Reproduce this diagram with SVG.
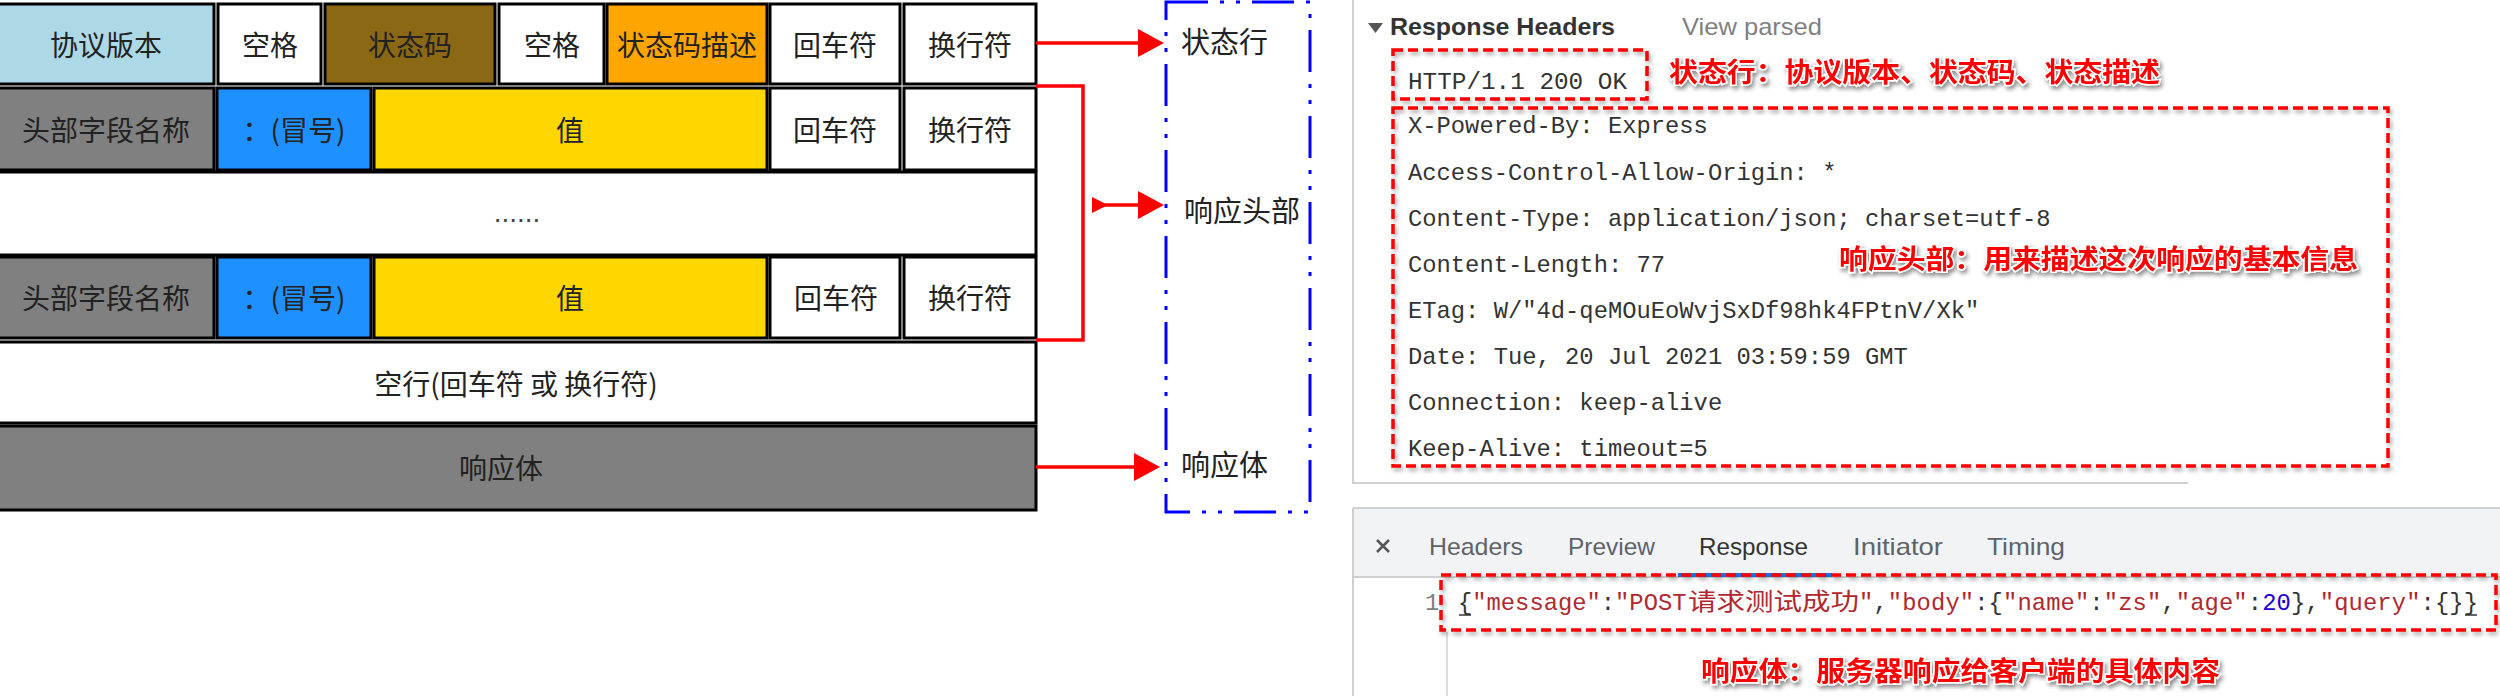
<svg xmlns="http://www.w3.org/2000/svg" width="2500" height="696" viewBox="0 0 2500 696">
<defs>
<style>
.cell{stroke:#000;stroke-width:3}
.t{font-family:"Noto Sans CJK SC","Liberation Sans",sans-serif;font-size:28px;fill:#222;text-anchor:middle;dominant-baseline:central}
.lbl{font-family:"Noto Sans CJK SC","Liberation Sans",sans-serif;font-size:29px;fill:#222;dominant-baseline:central}
.conn{stroke:#f00;stroke-width:3.5;fill:none}
.mono{font-family:"Liberation Mono",monospace;font-size:23.8px;fill:#333}
.ann{font-family:"Noto Sans CJK SC",sans-serif;font-size:27px;font-weight:bold;fill:#f00;stroke:#fff;stroke-width:3;paint-order:stroke;filter:url(#tsh)}
.redbox{fill:none;stroke:#f00;stroke-width:3.5;stroke-dasharray:10 5;filter:url(#bsh)}
.ui{font-family:"Liberation Sans",sans-serif;font-size:24px}
.tab{font-family:"Liberation Sans",sans-serif;font-size:24px;fill:#5f6368}
.s{fill:#b0282e}
.p{fill:#333}
.n{fill:#1c00cf}
.rule{stroke:#d0d0d0;stroke-width:2;fill:none}
</style>
<marker id="ah" viewBox="0 0 26 28" refX="0" refY="14" markerWidth="26" markerHeight="28" markerUnits="userSpaceOnUse" orient="auto">
<path d="M0,0 L26,14 L0,28 z" fill="#f00"/>
</marker>
<filter id="bsh" x="-5%" y="-20%" width="110%" height="140%">
<feDropShadow dx="2" dy="3" stdDeviation="2" flood-color="#000" flood-opacity="0.35"/>
</filter>
<filter id="tsh" x="-5%" y="-30%" width="110%" height="160%">
<feDropShadow dx="2" dy="3" stdDeviation="2" flood-color="#000" flood-opacity="0.45"/>
</filter>
</defs>
<rect x="0" y="0" width="2500" height="696" fill="#fff"/>

<!-- Left table -->
<g id="row-status">
<rect class="cell" x="-2" y="4" width="216" height="80" fill="#ADD8E6"/>
<text class="t" x="106" y="44">协议版本</text>
<rect class="cell" x="218" y="4" width="103" height="80" fill="#fff"/>
<text class="t" x="270" y="44">空格</text>
<rect class="cell" x="325" y="4" width="170" height="80" fill="#8B6914"/>
<text class="t" x="410" y="44">状态码</text>
<rect class="cell" x="499" y="4" width="105" height="80" fill="#fff"/>
<text class="t" x="552" y="44">空格</text>
<rect class="cell" x="607" y="4" width="160" height="80" fill="#FFA500"/>
<text class="t" x="687" y="44">状态码描述</text>
<rect class="cell" x="770" y="4" width="130" height="80" fill="#fff"/>
<text class="t" x="835" y="44">回车符</text>
<rect class="cell" x="904" y="4" width="132" height="80" fill="#fff"/>
<text class="t" x="970" y="44">换行符</text>
</g>
<g id="row-header1">
<rect class="cell" x="-2" y="88" width="216" height="82" fill="#808080"/>
<text class="t" x="106" y="129">头部字段名称</text>
<rect class="cell" x="217" y="88" width="154" height="82" fill="#1E90FF"/>
<text class="t" x="294" y="129">：(冒号)</text>
<rect class="cell" x="374" y="88" width="393" height="82" fill="#FFD700"/>
<text class="t" x="570" y="129">值</text>
<rect class="cell" x="770" y="88" width="130" height="82" fill="#fff"/>
<text class="t" x="835" y="129">回车符</text>
<rect class="cell" x="904" y="88" width="132" height="82" fill="#fff"/>
<text class="t" x="970" y="129">换行符</text>
</g>
<g id="row-ellipsis">
<rect class="cell" x="-2" y="172" width="1038" height="83" fill="#fff"/>
<text x="517" y="222" font-family="Liberation Sans, sans-serif" font-size="28" fill="#444" text-anchor="middle">......</text>
</g>
<g id="row-header2">
<rect class="cell" x="-2" y="257" width="216" height="81" fill="#808080"/>
<text class="t" x="106" y="297">头部字段名称</text>
<rect class="cell" x="217" y="257" width="154" height="81" fill="#1E90FF"/>
<text class="t" x="294" y="297">：(冒号)</text>
<rect class="cell" x="374" y="257" width="393" height="81" fill="#FFD700"/>
<text class="t" x="570" y="297">值</text>
<rect class="cell" x="770" y="257" width="130" height="81" fill="#fff"/>
<text class="t" x="836" y="297">回车符</text>
<rect class="cell" x="904" y="257" width="132" height="81" fill="#fff"/>
<text class="t" x="970" y="297">换行符</text>
</g>
<g id="row-blank">
<rect class="cell" x="-2" y="342" width="1038" height="81" fill="#fff"/>
<text class="t" x="516" y="383">空行(回车符 或 换行符)</text>
</g>
<g id="row-body">
<rect class="cell" x="-2" y="426" width="1038" height="84" fill="#808080"/>
<text class="t" x="501" y="467">响应体</text>
</g>

<!-- Blue dash-dot group box -->
<g id="group-box">
<rect x="1166" y="2" width="144" height="510" fill="none" stroke="#0000ff" stroke-width="3" stroke-dasharray="42 12 4 12 4 12"/>
<text class="lbl" x="1181" y="40">状态行</text>
<text class="lbl" x="1184" y="209">响应头部</text>
<text class="lbl" x="1181" y="463">响应体</text>
</g>

<g id="connectors">
<line class="conn" x1="1036" y1="43" x2="1138" y2="43" marker-end="url(#ah)"/>
<path class="conn" d="M1036,86 H1083 V340 H1036"/>
<line class="conn" x1="1094" y1="205" x2="1138" y2="205" marker-end="url(#ah)"/>
<polygon points="1092,197 1108,205 1092,213" fill="#f00"/>
<line class="conn" x1="1036" y1="467" x2="1134" y2="467" marker-end="url(#ah)"/>
</g>

<!-- Right: DevTools headers panel -->
<g id="headers-panel">
<path class="rule" d="M1353,0 V483 H2188"/>
<polygon points="1368,23 1383,23 1375.5,33" fill="#555"/>
<text class="ui" x="1390" y="35" font-weight="bold" fill="#333" textLength="225" lengthAdjust="spacingAndGlyphs">Response Headers</text>
<text class="ui" x="1682" y="35" fill="#808080" textLength="140" lengthAdjust="spacingAndGlyphs">View parsed</text>
</g>

<g id="status-line">
<rect class="redbox" x="1393" y="50" width="254" height="49"/>
<text class="mono" x="1408" y="89" textLength="219" lengthAdjust="spacingAndGlyphs">HTTP/1.1 200 OK</text>
<text class="ann" x="1669" y="82" textLength="491" lengthAdjust="spacingAndGlyphs">状态行：协议版本、状态码、状态描述</text>
</g>

<g id="header-lines">
<rect class="redbox" x="1393" y="108" width="995" height="358"/>
<text class="mono" x="1408" y="133">X-Powered-By: Express</text>
<text class="mono" x="1408" y="180">Access-Control-Allow-Origin: *</text>
<text class="mono" x="1408" y="226">Content-Type: application/json; charset=utf-8</text>
<text class="mono" x="1408" y="272">Content-Length: 77</text>
<text class="mono" x="1408" y="318">ETag: W/"4d-qeMOuEoWvjSxDf98hk4FPtnV/Xk"</text>
<text class="mono" x="1408" y="364">Date: Tue, 20 Jul 2021 03:59:59 GMT</text>
<text class="mono" x="1408" y="410">Connection: keep-alive</text>
<text class="mono" x="1408" y="456">Keep-Alive: timeout=5</text>
<text class="ann" x="1839" y="269" textLength="519" lengthAdjust="spacingAndGlyphs">响应头部：用来描述这次响应的基本信息</text>
</g>

<!-- Response tab panel -->
<g id="response-panel">
<rect x="1353" y="508" width="1147" height="69" fill="#f1f3f4"/>
<line class="rule" x1="1353" y1="508" x2="2500" y2="508"/>
<line class="rule" x1="1353" y1="577" x2="2500" y2="577"/>
<line class="rule" x1="1353" y1="508" x2="1353" y2="696"/>
<line x1="1447" y1="632" x2="1447" y2="696" stroke="#ddd" stroke-width="2"/>
<path d="M1377,540 L1389,552 M1389,540 L1377,552" stroke="#555" stroke-width="2.5" fill="none"/>
<text class="tab" x="1429" y="555" textLength="94" lengthAdjust="spacingAndGlyphs">Headers</text>
<text class="tab" x="1568" y="555" textLength="87" lengthAdjust="spacingAndGlyphs">Preview</text>
<text class="tab" x="1699" y="555" fill="#333" style="fill:#333" textLength="109" lengthAdjust="spacingAndGlyphs">Response</text>
<text class="tab" x="1853" y="555" textLength="90" lengthAdjust="spacingAndGlyphs">Initiator</text>
<text class="tab" x="1987" y="555" textLength="78" lengthAdjust="spacingAndGlyphs">Timing</text>
<rect x="1678" y="573" width="154" height="4" fill="#1a73e8"/>
</g>

<g id="response-body">
<rect class="redbox" x="1441" y="575" width="1055" height="55"/>
<text class="mono" x="1425" y="610" fill="#808080" style="fill:#808080">1</text>
<text class="mono" x="1458" y="610"><tspan class="p">{</tspan><tspan class="s">"message"</tspan><tspan class="p">:</tspan><tspan class="s">"POST</tspan></text>
<text x="1688" y="610" font-family="Noto Sans CJK SC, sans-serif" font-size="24" fill="#b0282e" textLength="171" lengthAdjust="spacingAndGlyphs">请求测试成功</text>
<text class="mono" x="1859" y="610" textLength="619" lengthAdjust="spacing"><tspan class="s">"</tspan><tspan class="p">,</tspan><tspan class="s">"body"</tspan><tspan class="p">:{</tspan><tspan class="s">"name"</tspan><tspan class="p">:</tspan><tspan class="s">"zs"</tspan><tspan class="p">,</tspan><tspan class="s">"age"</tspan><tspan class="p">:</tspan><tspan class="n">20</tspan><tspan class="p">},</tspan><tspan class="s">"query"</tspan><tspan class="p">:{}}</tspan></text>
<line x1="1459" y1="615" x2="1471" y2="615" stroke="#333" stroke-width="1.5"/>
<line x1="2465" y1="615" x2="2477" y2="615" stroke="#333" stroke-width="1.5"/>
<text class="ann" x="1701" y="681" textLength="519" lengthAdjust="spacingAndGlyphs">响应体：服务器响应给客户端的具体内容</text>
</g>
</svg>
